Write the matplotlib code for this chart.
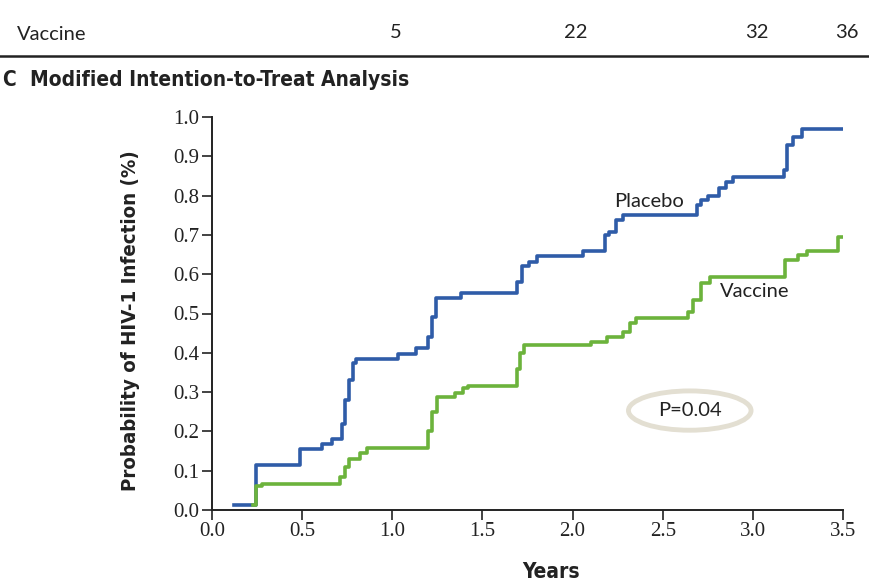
import numpy as np
import matplotlib
matplotlib.use('Agg')
import matplotlib.pyplot as plt
from matplotlib.patches import Ellipse
from matplotlib.transforms import blended_transform_factory

# Kaplan-Meier style step data (years, probability %)
placebo_t = [0.12, 0.245, 0.49, 0.61, 0.665, 0.72, 0.74, 0.76, 0.78, 0.80,
             1.03, 1.13, 1.20, 1.22, 1.24, 1.38, 1.69, 1.72, 1.76, 1.80,
             2.06, 2.18, 2.20, 2.24, 2.28, 2.69, 2.71, 2.75, 2.81, 2.85,
             2.89, 3.17, 3.19, 3.22, 3.27, 3.50]
placebo_v = [0.013, 0.114, 0.155, 0.168, 0.180, 0.220, 0.280, 0.330, 0.374, 0.384,
             0.397, 0.412, 0.440, 0.490, 0.540, 0.553, 0.580, 0.620, 0.630, 0.646,
             0.660, 0.700, 0.707, 0.738, 0.750, 0.775, 0.790, 0.800, 0.820, 0.835,
             0.847, 0.865, 0.930, 0.950, 0.970, 0.970]

vaccine_t = [0.23, 0.245, 0.275, 0.71, 0.74, 0.76, 0.82, 0.86, 1.20, 1.22,
             1.25, 1.35, 1.39, 1.42, 1.69, 1.71, 1.73, 2.10, 2.19, 2.28,
             2.32, 2.35, 2.64, 2.67, 2.71, 2.76, 3.18, 3.25, 3.30, 3.47, 3.50]
vaccine_v = [0.013, 0.060, 0.066, 0.085, 0.110, 0.130, 0.145, 0.157, 0.200, 0.250,
             0.288, 0.297, 0.310, 0.316, 0.360, 0.400, 0.420, 0.428, 0.440, 0.453,
             0.475, 0.489, 0.503, 0.534, 0.578, 0.593, 0.636, 0.649, 0.660, 0.695, 0.695]

# risk-table row visible above the panel
table_years = [1.0, 2.0, 3.0, 3.5]
table_vaccine = ['5', '22', '32', '36']

x_ticks = np.arange(0, 3.51, 0.5)
y_ticks = np.arange(0, 1.01, 0.1)

BLUE = '#2f5ca8'
GREEN = '#6cb33c'
INK = '#222222'
SANS = ['Lato', 'DejaVu Sans']
SERIF = ['Liberation Serif', 'DejaVu Serif']
COND = dict(family='DejaVu Sans', fontstretch='condensed', fontweight='bold')

fig = plt.figure(figsize=(8.7, 5.85), dpi=100)
ax = fig.add_axes([212 / 870, 1 - 510 / 585, (843 - 212) / 870, (510 - 117) / 585])

ax.step(placebo_t, placebo_v, where='post', color=BLUE, lw=2.6, zorder=3)
ax.step(vaccine_t, vaccine_v, where='post', color=GREEN, lw=2.6, zorder=3)

ax.set_xlim(0, 3.5)
ax.set_ylim(0, 1.0)
ax.set_xticks(x_ticks)
ax.set_yticks(y_ticks)
ax.set_xticklabels([f'{v:.1f}' for v in x_ticks], family=SERIF, fontsize=15)
ax.set_yticklabels([f'{v:.1f}' for v in y_ticks], family=SERIF, fontsize=15)
ax.tick_params(direction='out', length=7, width=1.2, color=INK, labelcolor=INK, pad=2)
ax.spines['top'].set_visible(False)
ax.spines['right'].set_visible(False)
for s in ('left', 'bottom'):
    ax.spines[s].set_linewidth(1.4)
    ax.spines[s].set_color(INK)

ax.set_xlabel('Years', fontsize=15, color=INK, **COND)
ax.xaxis.set_label_coords(0.537, -0.132)
ax.set_ylabel('Probability of HIV-1 Infection (%)', fontsize=14.7, color=INK, **COND)
ax.yaxis.set_label_coords(-0.114, 0.483)

ax.text(2.23, 0.785, 'Placebo', family=SANS, fontsize=14.5, color=INK, ha='left', va='center')
ax.text(2.82, 0.555, 'Vaccine', family=SANS, fontsize=14.5, color=INK, ha='left', va='center')

ax.add_patch(Ellipse((2.65, 0.253), 0.68, 0.1, fill=False, ec='#e3dfd2', lw=3.5, zorder=2))
ax.text(2.65, 0.252, 'P=0.04', family=SANS, fontsize=14.5, color=INK, ha='center', va='center')

# table row above the panel
tr = blended_transform_factory(ax.transData, fig.transFigure)
fig.text(17 / 870, 1 - 35 / 585, 'Vaccine', family=SANS, fontsize=14.5, color=INK, va='center')
for yr, lab in zip(table_years, table_vaccine):
    fig.text(yr + 0.02, 1 - 32 / 585, lab, transform=tr, family=SANS, fontsize=14.5,
             color=INK, ha='center', va='center')
fig.add_artist(plt.Line2D([0, 1], [1 - 56 / 585, 1 - 56 / 585], transform=fig.transFigure,
                          color=INK, lw=1.8))

fig.text(2 / 870, 1 - 80 / 585, 'C', fontsize=15, color=INK, va='center', **COND)
fig.text(30 / 870, 1 - 80 / 585, 'Modified Intention-to-Treat Analysis', fontsize=15,
         color=INK, va='center', **COND)

fig.savefig('out.png', dpi=100)
